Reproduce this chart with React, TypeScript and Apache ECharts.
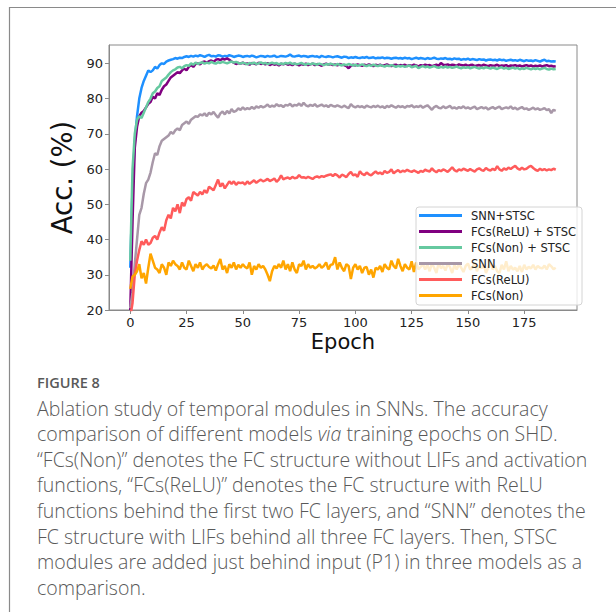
import React, { useEffect, useRef } from "react";
import * as echarts from "echarts";

const seriesNames = ["SNN+STSC", "FCs(ReLU) + STSC", "FCs(Non) + STSC", "SNN", "FCs(ReLU)", "FCs(Non)"];
const seriesColors = ["#1E90FF", "#800080", "#66C9A0", "#A898A8", "#FF5B5B", "#FFA500"];
const xTicks = [0, 25, 50, 75, 100, 125, 150, 175];
const yTicks = [20, 30, 40, 50, 60, 70, 80, 90];

const snnStsc = [
  32, 55, 68, 75, 80, 83, 85, 86.5, 88, 87.5,
  88, 89, 88.5, 89.5, 90, 89.8, 90.5, 90.8, 91, 91.2,
  91.5, 91.3, 91.6, 91.5, 91.8, 92, 91.8, 92.1, 91.9, 92.2,
  92, 92.3, 92.1, 91.8, 92.2, 92.4, 92, 92.1, 91.9, 92.3,
  92.2, 91.9, 92.1, 92, 92.3, 92.1, 91.8, 92, 92.2, 92.1,
  91.8, 92, 92.1, 91.9, 92.2, 92, 91.7, 91.9, 92.1, 92,
  91.8, 92.1, 91.9, 92, 92.2, 91.8, 91.9, 92.1, 92, 91.9,
  92.1, 92.5, 92, 91.9, 92.1, 92.2, 91.9, 92.1, 92, 91.8,
  92, 92.1, 91.9, 92, 91.7, 92.1, 91.9, 91.8, 92, 91.9,
  91.7, 91.9, 92, 91.8, 91.6, 91.9, 91.8, 91.5, 91.7, 91.6,
  91.8, 91.6, 91.5, 91.7, 91.6, 91.8, 91.5, 91.6, 91.7, 91.4,
  91.6, 91.5, 91.7, 91.4, 91.6, 91.5, 91.3, 91.5, 91.6, 91.4,
  91.5, 91.3, 91.6, 91.4, 91.5, 91.2, 91.4, 91.6, 91.3, 91.5,
  91.4, 91.2, 91.5, 91.3, 91.4, 91.6, 91.3, 91.2, 91.4, 91.3,
  91.5, 91.2, 91.3, 91.1, 91.4, 91.2, 91.3, 91, 91.2, 91.1,
  91.3, 91, 91.2, 91.1, 90.9, 91.2, 91, 91.1, 90.8, 91,
  91.1, 90.9, 91, 90.8, 91.1, 90.9, 91, 90.7, 90.9, 91,
  90.8, 90.9, 90.7, 91, 90.8, 90.6, 90.9, 90.7, 90.8, 90.6,
  90.9, 90.7, 90.5, 90.8, 91, 90.6, 90.7, 90.5, 90.6, 90.5,
];

const reluStsc = [
  20, 45, 66, 72, 75, 76, 76.5, 77.5, 78.5, 79,
  80.5, 80, 81.5, 81, 82.5, 83.5, 84, 85, 86, 86.5,
  87, 87.5, 87.2, 88, 88.5, 88, 89, 89.5, 89, 89.8,
  90, 89.7, 90.3, 90.5, 90.2, 90.6, 90.8, 90.4, 91, 91.2,
  90.9, 91.3, 91.1, 91.4, 91, 90.5, 90.2, 89.8, 90.1, 89.9,
  90.2, 89.8, 90, 89.6, 90.1, 89.9, 89.7, 90.2, 89.8, 90,
  89.7, 90.1, 89.5, 89.9, 89.6, 89.8, 89.4, 89.9, 89.7, 90,
  89.6, 89.8, 89.5, 89.9, 89.7, 89.4, 89.8, 89.6, 89.9, 89.5,
  89.7, 89.9, 89.5, 89.8, 89.6, 89.3, 89.7, 89.9, 89.6, 89.8,
  89.5, 89.7, 89.4, 89.8, 89.6, 89.5, 89.2, 88.6, 89.3, 89.6,
  89.4, 89.7, 89.5, 89.3, 89.6, 89.4, 89.7, 89.5, 89.2, 89.6,
  89.4, 89.6, 89.3, 89.5, 89.7, 89.4, 89.2, 89.5, 89.6, 89.3,
  89.5, 89.4, 89.6, 89.2, 89.5, 89.3, 89.6, 89.4, 89.1, 89.5,
  89.3, 89.6, 89.4, 89.5, 89.2, 89.4, 89.6, 89.3, 90.1, 89.6,
  89.5, 89.7, 89.4, 89.6, 89.5, 89.3, 89.7, 89.5, 89.4, 89.6,
  89.3, 89.5, 89.6, 89.2, 89.4, 89.5, 89.3, 89.6, 89.4, 89.2,
  89.5, 89.3, 89.4, 89.6, 89.2, 89.4, 89.3, 89.5, 89.1, 89.4,
  89.3, 89.5, 89.2, 89.4, 89.1, 89.3, 89.5, 89.2, 89.4, 89.1,
  89.3, 89.2, 89.4, 89.1, 89.3, 89.5, 89.2, 89.3, 89.1, 89.2,
];

const nonStsc = [
  34, 60, 70, 74, 75, 74.5, 76, 77.5, 79, 80,
  81.5, 82, 83, 83.5, 85, 85.5, 86, 86.8, 87.5, 88,
  88.3, 88.8, 89, 88.6, 89.2, 89.5, 89.3, 90, 89.6, 90.2,
  89.8, 90.1, 90.3, 89.9, 90.2, 90, 90.4, 90.1, 89.9, 90.3,
  90.1, 90.4, 90.2, 90, 90.3, 90.5, 90.2, 90.4, 90.1, 89.9,
  90.2, 90, 89.7, 90.1, 89.9, 90.2, 89.8, 90, 90.3, 89.9,
  90.1, 89.8, 90, 90.2, 89.9, 90.1, 89.7, 90, 89.8, 90.1,
  89.9, 90.2, 89.8, 90, 89.7, 89.9, 90.1, 89.8, 89.6, 89.9,
  89.7, 90, 89.8, 89.6, 89.9, 89.7, 89.5, 89.8, 89.6, 89.9,
  89.7, 89.5, 89.8, 89.6, 89.4, 89.7, 89.5, 89.8, 89.6, 89.4,
  89.6, 89.3, 89.5, 89.7, 89.4, 89.2, 89.5, 89.3, 89.6, 89.4,
  89.2, 89.5, 89.3, 89.1, 89.4, 89.2, 89.5, 89.3, 89, 89.3,
  89.1, 89.3, 89, 89.2, 89.4, 88.9, 89.1, 89.3, 88.6, 89,
  89.2, 88.9, 89.1, 88.8, 89, 89.2, 88.9, 88.7, 89, 88.8,
  89.1, 88.8, 89, 88.7, 88.9, 89.1, 88.8, 88.6, 88.9, 88.7,
  88.9, 88.6, 88.8, 89, 88.7, 88.5, 88.8, 88.6, 88.9, 88.7,
  88.5, 88.8, 88.6, 88.4, 88.7, 88.9, 88.5, 88.7, 88.4, 88.6,
  88.8, 88.5, 88.7, 88.3, 88.6, 88.4, 88.7, 88.5, 88.3, 88.6,
  88.4, 88.6, 88.3, 88.5, 88.7, 88.4, 88.2, 88.5, 88.3, 88.4,
];

const snn = [
  20.5, 25, 33, 40, 47, 49, 53, 56, 57, 59,
  62, 64.5, 64, 66.5, 68, 68.5, 69, 69.5, 70.5, 70,
  71, 71.5, 71, 72.5, 73, 73.5, 72.8, 74, 74.5, 75,
  74.8, 75.5, 75.2, 75.8, 75, 76, 75.5, 76.2, 75.3, 74.6,
  75.8, 76.3, 75.5, 76.5, 75.8, 77, 76.2, 76.5, 77.2, 76.8,
  77.5, 76.9, 77.3, 77, 77.6, 77.1, 77.8, 77.4, 77.9, 77.5,
  77.8, 78.3, 77.6, 78, 77.7, 78.4, 77.9, 78.1, 77.6, 78.2,
  78, 78.5, 77.8, 78.2, 78, 78.6, 77.9, 78.8, 78.1, 77.8,
  78.2, 77.9, 78.4, 77.7, 78, 78.3, 77.8, 78.1, 77.6, 78.2,
  77.9, 77.7, 78.1, 77.8, 77.5, 78, 77.6, 77.3, 78.4, 77.8,
  77.5, 77.9, 77.6, 77.8, 77.4, 78, 77.7, 77.5, 77.9, 77.6,
  78, 77.5, 77.8, 77.3, 77.9, 77.6, 78.1, 77.7, 77.4, 77.9,
  77.6, 77.8, 77.4, 77.9, 77.7, 78.1, 77.5, 77.8, 77.6, 78,
  77.4, 77.8, 78.1, 77.5, 76.8, 77.6, 77.9, 77.4, 77.2, 77.8,
  77.3, 77.6, 77.9, 77.2, 77.5, 77.1, 77.6, 77.3, 77.8, 77.2,
  77.5, 77.1, 77.4, 77.7, 77, 77.3, 77.6, 77.2, 77.5, 76.9,
  77.3, 77.6, 77.1, 77.4, 77.7, 77, 77.3, 77.5, 77.2, 77.8,
  77.1, 77.4, 76.9, 77.3, 77.6, 77, 77.2, 76.8, 77.1, 77.4,
  76.9, 77.2, 76.8, 77, 77.3, 76.7, 77, 75.9, 76.8, 76.5,
];

const fcRelu = [
  18, 22, 30, 34, 37, 39.5, 38.5, 40, 38.5, 39,
  40.5, 41, 40, 42, 43.5, 42.5, 45.5, 47, 46, 49,
  48, 50, 47.5, 50.5, 49.5, 51.5, 52, 51, 53.5, 53,
  52.5, 53.5, 52.8, 54, 53.2, 55, 54.5, 54, 55.5, 57,
  55, 56, 54.5, 55.5, 56.5, 55.8, 56.5, 55.5, 56.2, 56,
  56.2, 55.6, 56.5, 55.8, 56.3, 56.8, 56.1, 56.6, 57, 56.5,
  56.8, 57.2, 56.6, 56.9, 57.3, 56.4, 57, 58.2, 57.1, 57.4,
  57.6, 57.2, 57.8, 57.4, 57.5, 58.3, 57.6, 57.7, 57.4, 57.8,
  57.5, 57.2, 57.7, 57.9, 57.6, 58, 57.8, 58.1, 58.3, 58.5,
  58, 58.6, 58.2, 57.6, 58.4, 58.1, 57.7, 58.6, 59.2, 58.2,
  58.5, 57.8, 59.4, 58.6, 58.3, 59, 58.5, 58.2, 58.8, 59.3,
  58.7, 59, 58.5, 59.5, 58.9, 59.2, 59.9, 58.8, 59.3, 59.7,
  59.1, 59.5, 59.3, 59.8, 59.4, 59.2, 59.6, 59.3, 58.9, 59.5,
  59.2, 59.8, 59.5, 59.3, 60.2, 59.5, 59.1, 59.7, 59.4, 59.9,
  59.6, 59.2, 59.8, 60.5, 59.7, 59.3, 59.9, 59.6, 60.1, 59.8,
  59.5, 60, 59.6, 59.3, 59.9, 60.2, 59.7, 59.5, 60.3, 59.8,
  59.6, 60.1, 59.7, 60.8, 59.9, 59.5, 60.2, 59.8, 60.4, 60,
  60.5, 60.9, 60.2, 59.8, 60.4, 59.9, 60.1, 60.6, 60.9, 60.3,
  59.8, 59.5, 60.1, 59.7, 60, 59.6, 59.9, 59.7, 60.1, 59.8,
];

const fcNon = [
  26, 29.5, 30, 31, 33, 29, 30.5, 27.5, 32, 36,
  34, 32, 31.5, 30.5, 33, 32, 30, 33.5, 32.5, 34,
  33, 32.5, 31.5, 33.5, 32, 31.5, 34, 32.5, 31, 33,
  32, 33.5, 31.5, 32.5, 33, 32.2, 31.8, 32.6, 31.2, 33,
  34.5, 31.5, 32.5, 30.5, 33, 32, 33.5, 31.5, 32.8, 32,
  33, 32.2, 31.8, 33.5, 30, 32.5, 31.5, 33, 32, 32.5,
  31.5, 30, 28.2, 31, 32.5, 31.8, 33, 32, 34, 31.5,
  33, 31, 33.5, 31.5, 30.5, 33, 32.5, 34, 31.5, 33,
  32, 32.5, 31.8, 32.2, 33, 32, 32.5, 33.5, 31.5, 32.8,
  33, 35, 31.5, 33.5, 32, 31, 33, 32.5, 28.8, 32,
  33, 31.5, 32.5, 30.5, 32, 32.2, 30, 31.5, 29.2, 32,
  31.5, 32.5, 30.8, 33, 32, 31.5, 34, 32.5, 31.8, 34.5,
  32.5, 31, 33, 32, 31.5, 33.8, 30.8, 33.5, 31.5, 32.2,
  33, 31.5, 32.8, 31, 33.2, 32, 30.5, 33.5, 31.8, 32.5,
  31.2, 33, 32.2, 30.5, 32.8, 31.5, 33, 32, 30.8, 32.5,
  33.2, 31.5, 32, 33.5, 31, 32.5, 31.8, 33, 30.5, 32,
  33.5, 31.5, 32.5, 31, 30.5, 32.8, 31.5, 33.8, 31, 32.5,
  31.5, 32, 31, 32.5, 30.8, 32.8, 31.5, 32.3, 31.8, 32.8,
  31.5, 32.5, 32, 31.8, 32.6, 31.5, 33, 32.4, 31.6, 32,
];

const allSeries = [snnStsc, reluStsc, nonStsc, snn, fcRelu, fcNon];

const captionTitle = "FIGURE 8";
const captionLines = [
  "{n|Ablation study of temporal modules in SNNs. The accuracy}",
  "{n|comparison of different models }{i|via}{n| training epochs on SHD.}",
  "{n|\u201CFCs(Non)\u201D denotes the FC structure without LIFs and activation}",
  "{n|functions, \u201CFCs(ReLU)\u201D denotes the FC structure with ReLU}",
  "{n|functions behind the first two FC layers, and \u201CSNN\u201D denotes the}",
  "{n|FC structure with LIFs behind all three FC layers. Then, STSC}",
  "{n|modules are added just behind input (P1) in three models as a}",
  "{n|comparison.}",
];

export default function App() {
  const ref = useRef<HTMLDivElement>(null);
  useEffect(() => {
    if (!ref.current) return;
    const chart = echarts.init(ref.current, null, { renderer: "svg" });
    const capFont = "'Open Sans', Lato, sans-serif";
    const capColor = "#595959";
    const graphic: any[] = [
      {
        type: "rect",
        shape: { x: 9.5, y: 7.5, width: 700, height: 700 },
        style: { fill: "none", stroke: "#8a8a8a", lineWidth: 1.2 },
        silent: true,
      },
      {
        type: "text",
        x: 37,
        y: 382,
        style: {
          text: captionTitle,
          fill: capColor,
          font: "600 14.5px 'Open Sans', Lato, sans-serif",
          textVerticalAlign: "middle",
        },
      },
    ];
    captionLines.forEach((line, i) => {
      graphic.push({
        type: "text",
        x: 37,
        y: 408 + i * 25.6,
        style: {
          text: line,
          fill: capColor,
          textVerticalAlign: "middle",
          rich: {
            n: { fontFamily: capFont, fontSize: 19.5, fontWeight: 300, color: capColor },
            i: { fontFamily: capFont, fontSize: 19.5, fontWeight: 300, color: capColor, fontStyle: "italic" },
          },
        },
      });
    });

    const axisFont = "'DejaVu Sans', sans-serif";
    chart.setOption({
      animation: false,
      backgroundColor: "#ffffff",
      grid: {
        left: 109,
        top: 45,
        right: 39,
        bottom: 302,
        show: true,
        borderColor: "#8a8a8a",
        borderWidth: 1,
      },
      legend: {
        orient: "vertical",
        left: 416,
        top: 207,
        icon: "rect",
        itemWidth: 43,
        itemHeight: 3,
        itemGap: 3,
        padding: [2, 6, 3, 3],
        backgroundColor: "rgba(255,255,255,0.8)",
        borderColor: "#d4d4d4",
        borderWidth: 1,
        borderRadius: 3,
        textStyle: {
          fontFamily: axisFont,
          fontSize: 11.5,
          lineHeight: 13,
          color: "#222",
          padding: [0, 0, 0, 4],
        },
        data: seriesNames,
      },
      xAxis: {
        type: "value",
        min: -9.45,
        max: 198.45,
        name: "Epoch",
        nameLocation: "middle",
        nameGap: 21,
        nameTextStyle: { fontFamily: axisFont, fontSize: 21, color: "#111", verticalAlign: "top" },
        splitLine: { show: false },
        axisLine: { show: true, onZero: false, lineStyle: { color: "#8a8a8a", width: 1 } },
        axisTick: { show: true, length: 4, lineStyle: { color: "#8a8a8a" }, customValues: xTicks },
        axisLabel: {
          customValues: xTicks,
          fontFamily: axisFont,
          fontSize: 13,
          color: "#222",
          margin: 6,
        },
      },
      yAxis: {
        type: "value",
        min: 20,
        max: 95.2,
        name: "Acc. (%)",
        nameLocation: "middle",
        nameGap: 19,
        nameRotate: 90,
        nameTextStyle: { fontFamily: axisFont, fontSize: 27.5, color: "#111" },
        splitLine: { show: false },
        axisLine: { show: true, onZero: false, lineStyle: { color: "#8a8a8a", width: 1 } },
        axisTick: { show: true, length: 4, lineStyle: { color: "#8a8a8a" }, customValues: yTicks },
        axisLabel: {
          customValues: yTicks,
          fontFamily: axisFont,
          fontSize: 13,
          color: "#222",
          margin: 6,
        },
      },
      graphic,
      series: allSeries.map((vals, si) => ({
        name: seriesNames[si],
        type: "line",
        showSymbol: false,
        symbol: "none",
        clip: true,
        color: seriesColors[si],
        lineStyle: { width: 2.5, color: seriesColors[si] },
        data: vals.map((v, i) => [i, v]),
      })),
    });
    return () => chart.dispose();
  }, []);
  return (
    <div
      ref={ref}
      style={{ position: "absolute", left: 0, top: 0, width: 616, height: 612 }}
    />
  );
}
